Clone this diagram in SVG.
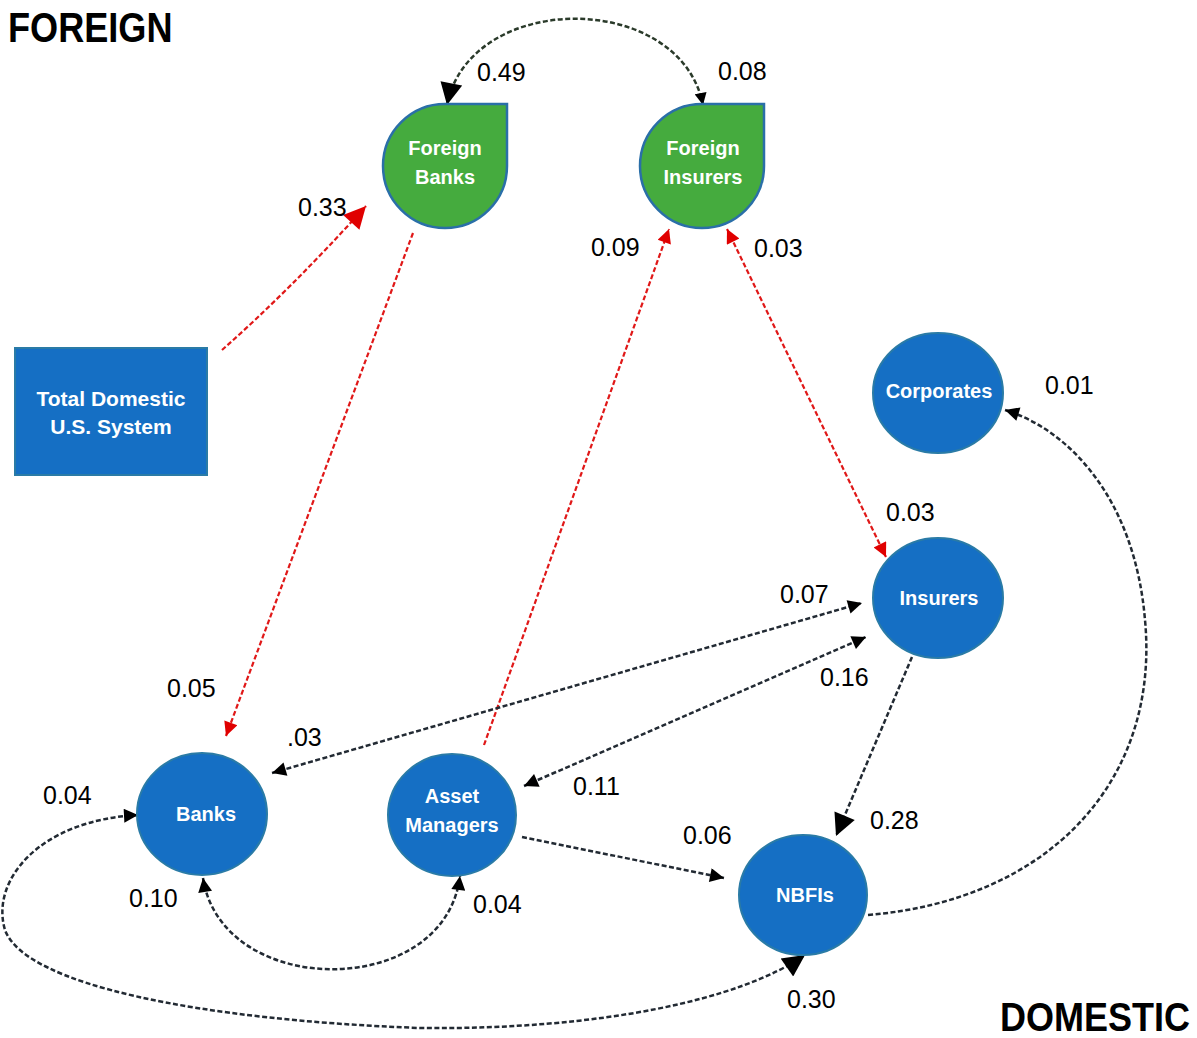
<svg xmlns="http://www.w3.org/2000/svg" width="1197" height="1038" viewBox="0 0 1197 1038">
<style>
.blue{fill:#156FC4;stroke:#2A7BA6;stroke-width:2}
.green{fill:#45AB3E;stroke:#2A6FA8;stroke-width:2.5}
.nt{font-family:"Liberation Sans",Arial,sans-serif;font-weight:bold;font-size:20px;fill:#fff;text-anchor:middle}
.num{font-family:"Liberation Sans",Arial,sans-serif;font-size:25px;fill:#000}
.big{font-family:"Liberation Sans",Arial,sans-serif;font-weight:bold;font-size:42px;fill:#000}
.bk{fill:none;stroke:#222a33;stroke-width:2.5;stroke-dasharray:5 2.5}
.rd{fill:none;stroke:#E01818;stroke-width:2.2;stroke-dasharray:5 2.5}
</style>
<defs>
<marker id="kL" viewBox="0 0 10 10" refX="10" refY="5" markerWidth="24" markerHeight="22" markerUnits="userSpaceOnUse" orient="auto-start-reverse"><path d="M0,0 L10,5 L0,10 z" fill="#000"/></marker>
<marker id="kM" viewBox="0 0 10 10" refX="10" refY="5" markerWidth="16" markerHeight="14" markerUnits="userSpaceOnUse" orient="auto-start-reverse"><path d="M0,0 L10,5 L0,10 z" fill="#000"/></marker>
<marker id="kS" viewBox="0 0 10 10" refX="10" refY="5" markerWidth="13" markerHeight="12" markerUnits="userSpaceOnUse" orient="auto-start-reverse"><path d="M0,0 L10,5 L0,10 z" fill="#000"/></marker>
<marker id="rL" viewBox="0 0 10 10" refX="10" refY="5" markerWidth="24" markerHeight="22" markerUnits="userSpaceOnUse" orient="auto-start-reverse"><path d="M0,0 L10,5 L0,10 z" fill="#E00000"/></marker>
<marker id="rM" viewBox="0 0 10 10" refX="10" refY="5" markerWidth="16" markerHeight="14" markerUnits="userSpaceOnUse" orient="auto-start-reverse"><path d="M0,0 L10,5 L0,10 z" fill="#E00000"/></marker>
</defs>

<text class="big" transform="translate(8,42) scale(0.86,1)">FOREIGN</text>
<text class="big" style="font-size:40px" transform="translate(1000,1031) scale(0.9,1)">DOMESTIC</text>

<g id="connectors">
<path class="bk" style="stroke:#2a3a2a" d="M447,105 C470,-10 680,-10 703,105" marker-start="url(#kL)" marker-end="url(#kS)"/>
<path class="rd" d="M222,350 Q290,290 366,206" marker-end="url(#rL)"/>
<path class="rd" d="M413,233 L226,736" marker-end="url(#rM)"/>
<path class="rd" d="M484,745 L669,229" marker-end="url(#rM)"/>
<path class="rd" d="M727,229 L886,557" marker-start="url(#rM)" marker-end="url(#rM)"/>
<path class="bk" d="M272,773 L862,603" marker-start="url(#kM)" marker-end="url(#kM)"/>
<path class="bk" d="M524,786 L866,637" marker-start="url(#kM)" marker-end="url(#kM)"/>
<path class="bk" d="M522,837 L724,878" marker-end="url(#kM)"/>
<path class="bk" d="M912,657 L836,836" marker-end="url(#kL)"/>
<path class="bk" d="M868,915 C1050,900 1160,780 1145,620 C1135,500 1070,430 1005,410" marker-end="url(#kM)"/>
<path class="bk" d="M203,878 C222,1000 445,1000 460,876" marker-start="url(#kM)" marker-end="url(#kM)"/>
<path class="bk" d="M138,815 C40,820 -10,880 5,930 C25,985 200,1020 420,1028 C600,1030 740,1000 805,955" marker-start="url(#kM)" marker-end="url(#kL)"/>
</g>

<g id="total-domestic">
<rect class="blue" x="15" y="348" width="192" height="127"/>
<text class="nt" x="111" y="406" style="font-size:21px">Total Domestic</text>
<text class="nt" x="111" y="434" style="font-size:21px">U.S. System</text>
</g>
<g id="foreign-banks">
<path class="green" d="M383,166 A62,62 0 0 1 445,104 L507,104 L507,166 A62,62 0 0 1 445,228 A62,62 0 0 1 383,166 Z"/>
<text class="nt" x="445" y="155">Foreign</text>
<text class="nt" x="445" y="184">Banks</text>
</g>
<g id="foreign-insurers">
<path class="green" d="M640,166 A62,62 0 0 1 702,104 L764,104 L764,166 A62,62 0 0 1 702,228 A62,62 0 0 1 640,166 Z"/>
<text class="nt" x="703" y="155">Foreign</text>
<text class="nt" x="703" y="184">Insurers</text>
</g>
<g id="corporates">
<ellipse class="blue" cx="938" cy="393" rx="65" ry="60"/>
<text class="nt" x="939" y="398">Corporates</text>
</g>
<g id="insurers">
<ellipse class="blue" cx="938" cy="598" rx="65" ry="60"/>
<text class="nt" x="939" y="605">Insurers</text>
</g>
<g id="banks">
<ellipse class="blue" cx="202" cy="814" rx="65" ry="61"/>
<text class="nt" x="206" y="821">Banks</text>
</g>
<g id="asset-managers">
<ellipse class="blue" cx="452" cy="815" rx="64" ry="61"/>
<text class="nt" x="452" y="803">Asset</text>
<text class="nt" x="452" y="832">Managers</text>
</g>
<g id="nbfis">
<ellipse class="blue" cx="803" cy="895" rx="64" ry="60"/>
<text class="nt" x="805" y="902">NBFIs</text>
</g>

<g id="labels">
<text class="num" x="477" y="81">0.49</text>
<text class="num" x="718" y="80">0.08</text>
<text class="num" x="298" y="216">0.33</text>
<text class="num" x="591" y="256">0.09</text>
<text class="num" x="754" y="257">0.03</text>
<text class="num" x="1045" y="394">0.01</text>
<text class="num" x="886" y="521">0.03</text>
<text class="num" x="780" y="603">0.07</text>
<text class="num" x="820" y="686">0.16</text>
<text class="num" x="167" y="697">0.05</text>
<text class="num" x="287" y="746">.03</text>
<text class="num" x="573" y="795">0.11</text>
<text class="num" x="870" y="829">0.28</text>
<text class="num" x="683" y="844">0.06</text>
<text class="num" x="43" y="804">0.04</text>
<text class="num" x="129" y="907">0.10</text>
<text class="num" x="473" y="913">0.04</text>
<text class="num" x="787" y="1008">0.30</text>
</g>
</svg>
